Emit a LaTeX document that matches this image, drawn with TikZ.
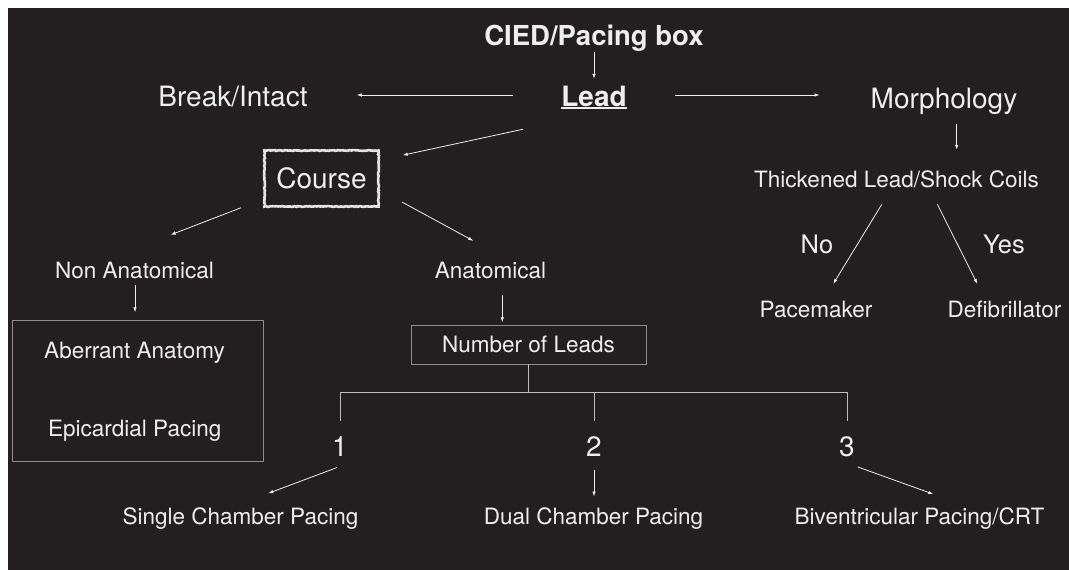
\documentclass[tikz,border=0pt]{standalone}
\usepackage{fontspec}
\setmainfont{TeX Gyre Heros}
\usetikzlibrary{arrows.meta,decorations.pathmorphing}
\definecolor{board}{HTML}{231F20}
\definecolor{chalk}{HTML}{EEEEEE}
\definecolor{wire}{HTML}{BDBDBD}
\definecolor{frame}{HTML}{8C8C8C}

\begin{document}
\begin{tikzpicture}[x=1pt,y=-1pt]
  \tikzstyle{txt} = [text=chalk,inner sep=0pt,text depth=0pt,text height=16.2pt,font=\fontsize{22.5}{26}\selectfont]
  \tikzstyle{big} = [txt,text height=20.1pt,font=\fontsize{28}{32}\selectfont]
  \tikzstyle{mid} = [txt,text height=18.3pt,font=\fontsize{25.5}{30}\selectfont]
  \tikzstyle{box} = [draw=frame,line width=0.8pt]
  \tikzstyle{arr} = [draw=chalk,line width=0.8pt,-{Latex[length=5pt,width=3.5pt]}]
  \tikzstyle{tree} = [draw=wire,line width=0.9pt]

  \fill[white] (0,0) rectangle (1069,570);
  \fill[board] (8,8) rectangle (1069,570);

  % top row
  \node[big,font=\bfseries\fontsize{27.5}{32}\selectfont] (cied) at (594,35) {CIED/Pacing box};
  \node[big,font=\bfseries\fontsize{28}{32}\selectfont] (lead) at (594,96) {Lead};
  \draw[chalk,line width=2pt] ([yshift=-1.3pt]lead.south west) -- ([yshift=-1.3pt]lead.south east);
  \node[big] (brk) at (233,96) {Break/Intact};
  \node[big] (morph) at (944,98) {Morphology};

  % right branch
  \node[txt] (thick) at (896.5,179.5) {Thickened Lead/Shock Coils};
  \node[mid] (no) at (817,244) {No};
  \node[mid] (yes) at (1004,244) {Yes};
  \node[txt] (pace) at (816,309) {Pacemaker};
  \node[txt] (defib) at (1004.5,309) {Defibrillator};

  % course branch
  \node[big,draw=chalk!90!gray,line width=2.6pt,minimum width=114pt,minimum height=56pt,
        decorate,decoration={random steps,segment length=1.5pt,amplitude=0.45pt}] (course) at (321.5,178.5) {Course};
  \node[txt] (nonanat) at (134.5,270.5) {Non Anatomical};
  \node[txt] (anat) at (490.5,270.5) {Anatomical};
  \node[box,minimum width=251pt,minimum height=141pt] (aberr) at (137.5,390.5) {};
  \node[txt] (aa) at (134.5,350) {Aberrant Anatomy};
  \node[txt] (epi) at (134.7,428) {Epicardial Pacing};
  \node[txt,box,minimum width=235pt,minimum height=39pt] (numleads) at (528.5,344.5) {Number of Leads};

  \foreach \n/\x in {1/340,2/594,3/847}
    \node[big] (n\n) at (\x,446) {\n};
  \node[txt] (single) at (240.5,516.5) {Single Chamber Pacing};
  \node[txt] (dual) at (593.5,516.5) {Dual Chamber Pacing};
  \node[txt] (biv) at (919.5,516.5) {Biventricular Pacing/CRT};

  % arrows
  \draw[arr] ([shift={(0,6.3)}]cied.south) -- ([shift={(0,-7)}]lead.north);
  \draw[arr] ([shift={(-48,-1)}]lead.west) -- ([shift={(49,-1)}]brk.east);
  \draw[arr] ([shift={(48,-1)}]lead.east) -- ([shift={(-51,-3)}]morph.west);
  \draw[arr] ([shift={(12.7,15.5)}]morph.south) -- ([shift={(60.2,-21.4)}]thick.north);
  \draw[arr] ([shift={(-14.8,16.7)}]thick.south) -- ([shift={(17.3,-16.9)}]pace.north);
  \draw[arr] ([shift={(40.8,16.4)}]thick.south) -- ([shift={(-27.2,-16.9)}]defib.north);
  \draw[arr] ([shift={(-71,23)}]lead.south) -- ([shift={(23,6)}]course.north east);
  \draw[arr] ([shift={(-22.3,0)}]course.south west) -- ([shift={(36.2,-27.4)}]nonanat.north);
  \draw[arr] ([shift={(22.3,-5.7)}]course.south east) -- ([shift={(-17.2,-21.4)}]anat.north);
  \draw[arr] ([shift={(0.5,6.4)}]nonanat.south) -- ([shift={(-2.5,-7.3)}]aberr.north);
  \draw[arr] ([shift={(11.8,16.4)}]anat.south) -- ([shift={(-26.2,-2.3)}]numleads.north);

  % number of leads
  \draw[tree] (numleads.south) -- ++(0,28.5) coordinate (bar);
  \foreach \n in {1,2,3}
    \draw[tree] ([shift={(0,-15)}]n\n.north) |- (bar);
  \draw[arr] ([shift={(-3,11.3)}]n1.south) -- ([shift={(27.8,-14.9)}]single.north);
  \draw[arr] ([shift={(0,13.3)}]n2.south) -- ([shift={(0.5,-11.7)}]dual.north);
  \draw[arr] ([shift={(10.7,10.7)}]n3.south) -- ([shift={(13.8,-14.1)}]biv.north);
\end{tikzpicture}
\end{document}
